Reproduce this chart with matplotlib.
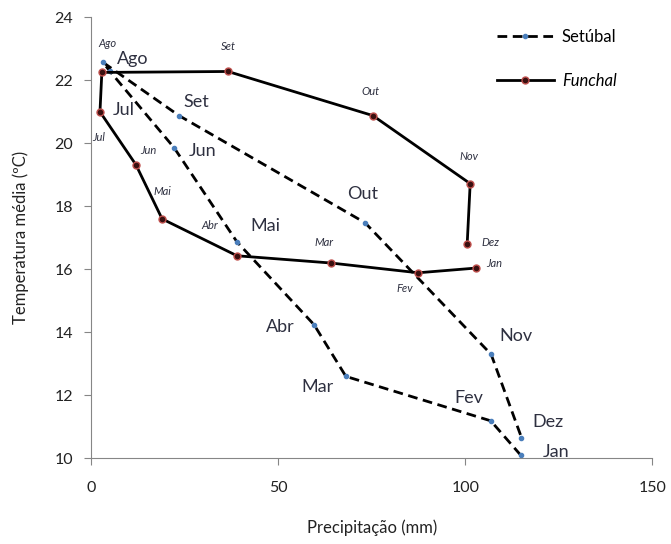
import matplotlib
matplotlib.use("Agg")
import matplotlib.pyplot as plt

plt.rcParams['font.family'] = ['Lato', 'DejaVu Sans']

meses = ["Jan", "Fev", "Mar", "Abr", "Mai", "Jun", "Jul", "Ago", "Set", "Out", "Nov", "Dez"]

# Setúbal: precipitação (mm) e temperatura média (ºC)
setubal_prec = [114.8, 106.8, 68.1, 59.6, 39.0, 22.2, 5.1, 3.2, 23.5, 73.2, 106.9, 115.0]
setubal_temp = [10.1, 11.19, 12.6, 14.24, 16.87, 19.86, 22.28, 22.57, 20.88, 17.48, 13.3, 10.66]

# Funchal
funchal_prec = [102.9, 87.4, 64.1, 39.0, 19.0, 12.0, 2.4, 2.9, 36.6, 75.3, 101.3, 100.5]
funchal_temp = [16.04, 15.89, 16.2, 16.43, 17.6, 19.32, 21.0, 22.25, 22.28, 20.88, 18.72, 16.81]

# deslocamento dos rótulos (pixels)
off_setubal = [(35, 3), (-22, 23), (-28, -11), (-34, -2), (28, 16), (28, -3),
               (14, -39), (30, 3), (17, 14), (-2, 29), (25, 18), (26, 16)]
off_funchal = [(18, 5), (-13, -16), (-7, 21), (-27, 30), (0, 27), (12, 14),
               (-1, -26), (6, 29), (0, 25), (-2, 24), (-1, 27), (23, 1)]

fig = plt.figure(figsize=(6.71, 5.44), dpi=100)
ax = fig.add_axes([0.1356, 0.1575, 0.8368, 0.8107])

ax.plot(setubal_prec, setubal_temp, color="black", lw=2, ls=(0, (3.5, 2)),
        marker="o", ms=3, mfc="#4a7ebb", mec="#4a7ebb", label="Setúbal")
ax.plot(funchal_prec, funchal_temp, color="black", lw=2,
        marker="o", ms=5, mfc="#3a1010", mec="#c0504d", mew=1, label="Funchal")

txt_color = "#2e3040"
for m, x, y, o in zip(meses, setubal_prec, setubal_temp, off_setubal):
    ax.annotate(m, (x, y), xytext=o, textcoords="offset pixels",
                ha="center", va="center", fontsize=13, color=txt_color)
for m, x, y, o in zip(meses, funchal_prec, funchal_temp, off_funchal):
    ax.annotate(m, (x, y), xytext=o, textcoords="offset pixels",
                ha="center", va="center", fontsize=8, style="italic", color=txt_color)

ax.set_xlim(0, 150)
ax.set_ylim(10, 24)
ax.set_xticks([0, 50, 100, 150])
ax.set_yticks(range(10, 25, 2))

for s in ["top", "right"]:
    ax.spines[s].set_visible(False)
for s in ["left", "bottom"]:
    ax.spines[s].set_color("#868686")
ax.tick_params(direction="out", length=5, color="#868686", labelsize=11.5,
               labelcolor="#222222")
ax.tick_params(axis="x", pad=11)
ax.tick_params(axis="y", pad=8)

ax.set_xlabel("Precipitação (mm)", fontsize=12, color="#222222", labelpad=18)
ax.set_ylabel("Temperatura média (ºC)", fontsize=12, color="#222222", labelpad=18)

leg = fig.legend(loc="upper left", bbox_to_anchor=(497 / 671, 1 - 29 / 544),
                 frameon=False, fontsize=12, handlelength=3.4, handletextpad=0.5,
                 labelspacing=1.7, borderpad=0, borderaxespad=0)
leg.get_texts()[1].set_style("italic")

fig.savefig("out.png", dpi=100)
